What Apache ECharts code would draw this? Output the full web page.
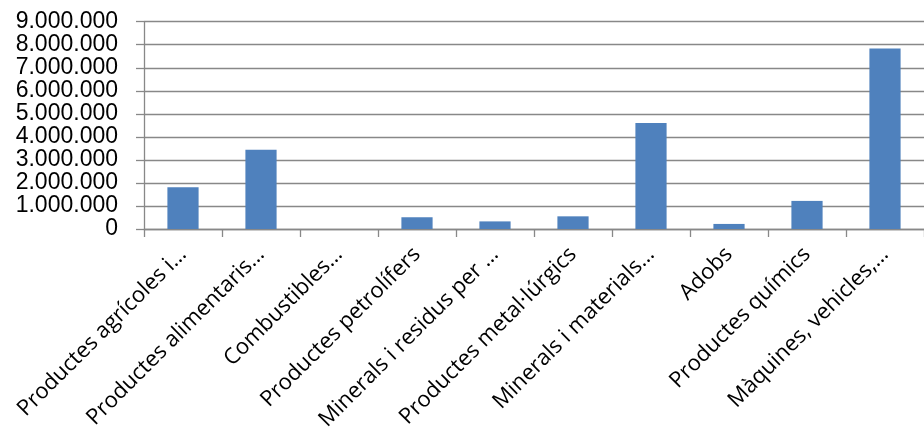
<!DOCTYPE html>
<html><head><meta charset="utf-8">
<script src="https://cdn.jsdelivr.net/npm/echarts@6/dist/echarts.min.js"></script>
<style>html,body{margin:0;padding:0;background:#fff}#c{width:924px;height:441px}</style>
</head><body><div id="c"></div>
<script>
const categories = ["Productes agrícoles i…", "Productes alimentaris…", "Combustibles…", "Productes petrolífers", "Minerals i residus per …", "Productes metal·lúrgics", "Minerals i materials…", "Adobs", "Productes químics", "Màquines, vehicles,…"];
const values = [1810000, 3440000, 0, 510000, 330000, 550000, 4600000, 220000, 1220000, 7840000];
const yMin = 0, yMax = 9000000, yStep = 1000000;

function fmt(v){ return String(v).replace(/\B(?=(\d{3})+(?!\d))/g, '.'); }

const chart = echarts.init(document.getElementById('c'));
chart.setOption({
  animation:false,
  grid:{left:144, right:0, top:21.7, bottom:212, containLabel:false},
  xAxis:{type:'category', data:categories,
    axisLine:{lineStyle:{color:'#888', width:1.3}},
    axisTick:{show:true, length:8, alignWithLabel:false, lineStyle:{color:'#888', width:1.3}},
    axisLabel:{rotate:45, interval:0, margin:22, color:'#000', fontFamily:'Open Sans', fontSize:22}},
  yAxis:{type:'value', min:yMin, max:yMax, interval:yStep,
    axisLine:{show:true, lineStyle:{color:'#888', width:1.3}},
    axisTick:{show:true, length:8, lineStyle:{color:'#888', width:1.3}},
    splitLine:{lineStyle:{color:'#888', width:1.3}},
    axisLabel:{margin:26, color:'#000', fontFamily:'Liberation Sans', fontSize:23, formatter:fmt}},
  series:[{type:'bar', data:values, barWidth:'40%',
    itemStyle:{color:'#4F81BD'}}]
});
</script></body></html>
